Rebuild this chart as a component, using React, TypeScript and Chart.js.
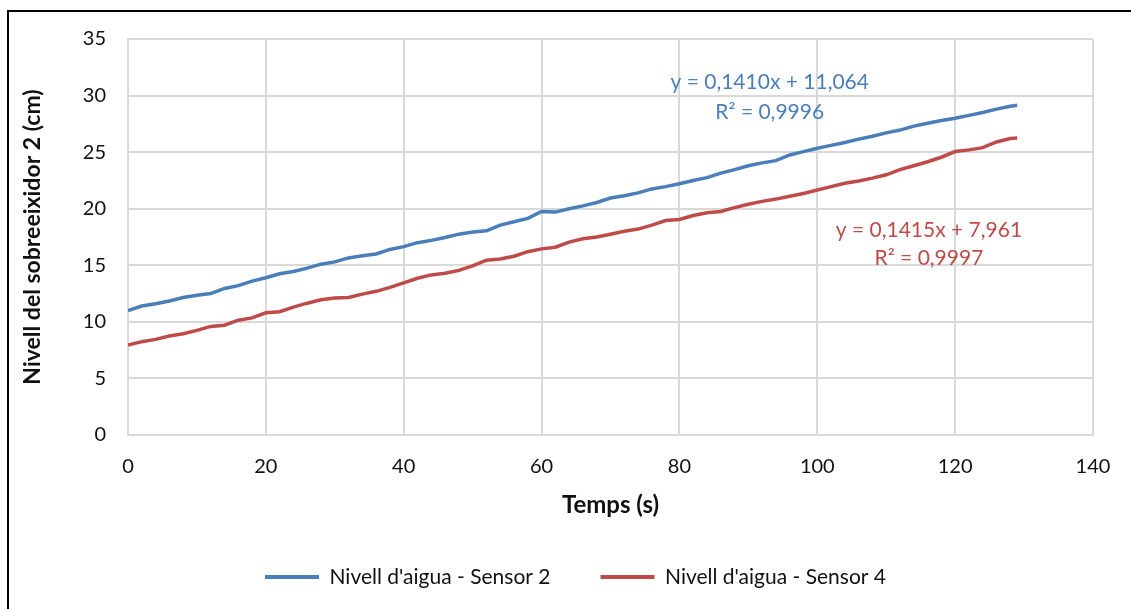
import React, { useEffect, useRef } from "react";
import { Chart, registerables } from "chart.js";

Chart.register(...registerables);

// Time (s)
const TIME_S = [
  0, 2, 4, 6, 8, 10, 12, 14, 16, 18, 20, 22, 24, 26, 28, 30, 32, 34, 36, 38,
  40, 42, 44, 46, 48, 50, 52, 54, 56, 58, 60, 62, 64, 66, 68, 70, 72, 74, 76, 78,
  80, 82, 84, 86, 88, 90, 92, 94, 96, 98, 100, 102, 104, 106, 108, 110, 112, 114,
  116, 118, 120, 122, 124, 126, 128, 129,
];

// Nivell d'aigua - Sensor 2 (cm)
const SENSOR_2 = [
  11.0, 11.4, 11.6, 11.85, 12.15, 12.35, 12.5, 12.95, 13.2, 13.6, 13.9, 14.25,
  14.45, 14.75, 15.1, 15.3, 15.65, 15.85, 16.0, 16.4, 16.65, 17.0, 17.2, 17.45,
  17.75, 17.95, 18.05, 18.55, 18.85, 19.15, 19.75, 19.7, 20.0, 20.25, 20.55,
  20.95, 21.15, 21.4, 21.75, 21.95, 22.2, 22.5, 22.75, 23.15, 23.45, 23.8, 24.05,
  24.25, 24.75, 25.05, 25.35, 25.6, 25.85, 26.15, 26.4, 26.7, 26.95, 27.3, 27.55,
  27.8, 28.0, 28.25, 28.5, 28.8, 29.05, 29.15,
];

// Nivell d'aigua - Sensor 4 (cm)
const SENSOR_4 = [
  7.96, 8.25, 8.45, 8.75, 8.95, 9.25, 9.6, 9.7, 10.15, 10.35, 10.8, 10.9, 11.3,
  11.65, 11.95, 12.1, 12.15, 12.45, 12.7, 13.05, 13.45, 13.85, 14.15, 14.3, 14.55,
  14.95, 15.45, 15.55, 15.8, 16.2, 16.45, 16.6, 17.05, 17.35, 17.5, 17.75, 18.0,
  18.2, 18.55, 18.95, 19.05, 19.4, 19.65, 19.75, 20.1, 20.4, 20.65, 20.85, 21.1,
  21.35, 21.65, 21.95, 22.25, 22.45, 22.7, 23.0, 23.45, 23.8, 24.15, 24.55, 25.05,
  25.2, 25.4, 25.9, 26.2, 26.25,
];

const SERIES_NAMES = ["Nivell d'aigua - Sensor 2", "Nivell d'aigua - Sensor 4"];
const SERIES_COLORS = ["#4a7ebb", "#be4b48"];

// Trendline labels: text lines and anchor (in data units: x, y of each line)
const EQ_TEXT_2 = ["y = 0,1410x + 11,064", "R² = 0,9996"];
const EQ_ANCHOR_2 = [
  [93.1, 31.2],
  [93.1, 28.55],
];
const EQ_TEXT_4 = ["y = 0,1415x + 7,961", "R² = 0,9997"];
const EQ_ANCHOR_4 = [
  [116.2, 18.1],
  [116.2, 15.65],
];

const X_TITLE = "Temps (s)";
const Y_TITLE = "Nivell del sobreeixidor 2 (cm)";

const FONT = "Lato, 'Noto Sans', sans-serif";
const LEGEND_SHIFT = 29;

const eqPlugin = {
  id: "eqLabels",
  afterDatasetsDraw(chart: any) {
    const { ctx, scales } = chart;
    const groups = [
      { text: EQ_TEXT_2, anchor: EQ_ANCHOR_2, color: SERIES_COLORS[0] },
      { text: EQ_TEXT_4, anchor: EQ_ANCHOR_4, color: SERIES_COLORS[1] },
    ];
    ctx.save();
    ctx.font = `21px ${FONT}`;
    ctx.textAlign = "center";
    ctx.textBaseline = "middle";
    groups.forEach((g) => {
      ctx.fillStyle = g.color;
      g.text.forEach((t, i) => {
        const px = scales.x.getPixelForValue(g.anchor[i][0]);
        const py = scales.y.getPixelForValue(g.anchor[i][1]);
        ctx.fillText(t, px, py);
      });
    });
    ctx.restore();
  },
};

const legendShiftPlugin = {
  id: "legendShift",
  afterLayout(chart: any) {
    const lg = chart.legend;
    if (lg) {
      lg.left += LEGEND_SHIFT;
      lg.right += LEGEND_SHIFT;
    }
  },
};

export default function App() {
  const ref = useRef<HTMLCanvasElement | null>(null);

  useEffect(() => {
    if (!ref.current) return;
    const mk = (vals: number[]) => TIME_S.map((t, i) => ({ x: t, y: vals[i] }));
    const chart = new Chart(ref.current, {
      type: "line",
      data: {
        datasets: [
          {
            label: SERIES_NAMES[0],
            data: mk(SENSOR_2),
            borderColor: SERIES_COLORS[0],
            backgroundColor: SERIES_COLORS[0],
            borderWidth: 3.5,
            pointRadius: 0,
            tension: 0,
          },
          {
            label: SERIES_NAMES[1],
            data: mk(SENSOR_4),
            borderColor: SERIES_COLORS[1],
            backgroundColor: SERIES_COLORS[1],
            borderWidth: 3.5,
            pointRadius: 0,
            tension: 0,
          },
        ],
      },
      options: {
        responsive: false,
        animation: false,
        layout: { padding: { left: 0, top: 39, right: 38, bottom: 11.5 } },
        plugins: {
          tooltip: { enabled: false },
          legend: {
            position: "bottom",
            labels: {
              boxWidth: 54,
              boxHeight: 4,
              padding: 50,
              color: "#111",
              font: { family: FONT, size: 21 },
              generateLabels: (c: any) =>
                Chart.defaults.plugins.legend.labels
                  .generateLabels(c)
                  .map((l: any) => ({ ...l, lineWidth: 0 })),
            },
          },
        },
        scales: {
          x: {
            type: "linear",
            min: 0,
            max: 140,
            ticks: {
              stepSize: 20,
              padding: 20,
              color: "#111",
              font: { family: FONT, size: 20 },
            },
            grid: { color: "#d9d9d9", lineWidth: 2, drawTicks: false },
            border: { color: "#d9d9d9", width: 2 },
            title: {
              display: true,
              text: X_TITLE,
              color: "#111",
              font: { family: FONT, size: 24, weight: "bold" },
              padding: { top: 0, bottom: -3 },
            },
            afterFit: (s: any) => {
              s.height = 81.5;
            },
          },
          y: {
            min: 0,
            max: 35,
            ticks: {
              stepSize: 5,
              padding: 22,
              color: "#111",
              font: { family: FONT, size: 20 },
            },
            grid: { color: "#d9d9d9", lineWidth: 2, drawTicks: false },
            border: { color: "#d9d9d9", width: 2 },
            title: {
              display: true,
              text: Y_TITLE,
              color: "#111",
              font: { family: FONT, size: 23, weight: "bold" },
              padding: { top: 19, bottom: 0 },
            },
            afterFit: (s: any) => {
              s.width = 128;
            },
          },
        },
      },
      plugins: [eqPlugin, legendShiftPlugin],
    });
    return () => chart.destroy();
  }, []);

  return (
    <div
      style={{
        position: "absolute",
        left: 0,
        top: 0,
        width: 1131,
        height: 609,
        background: "#fff",
        overflow: "hidden",
      }}
    >
      <canvas
        ref={ref}
        width={1131}
        height={609}
        style={{ position: "absolute", left: 0, top: 0, width: 1131, height: 609 }}
      />
      <div
        style={{
          position: "absolute",
          left: 7,
          top: 10,
          width: 1124,
          height: 599,
          borderTop: "2px solid #000",
          borderLeft: "2px solid #000",
          boxSizing: "border-box",
          pointerEvents: "none",
        }}
      />
    </div>
  );
}
